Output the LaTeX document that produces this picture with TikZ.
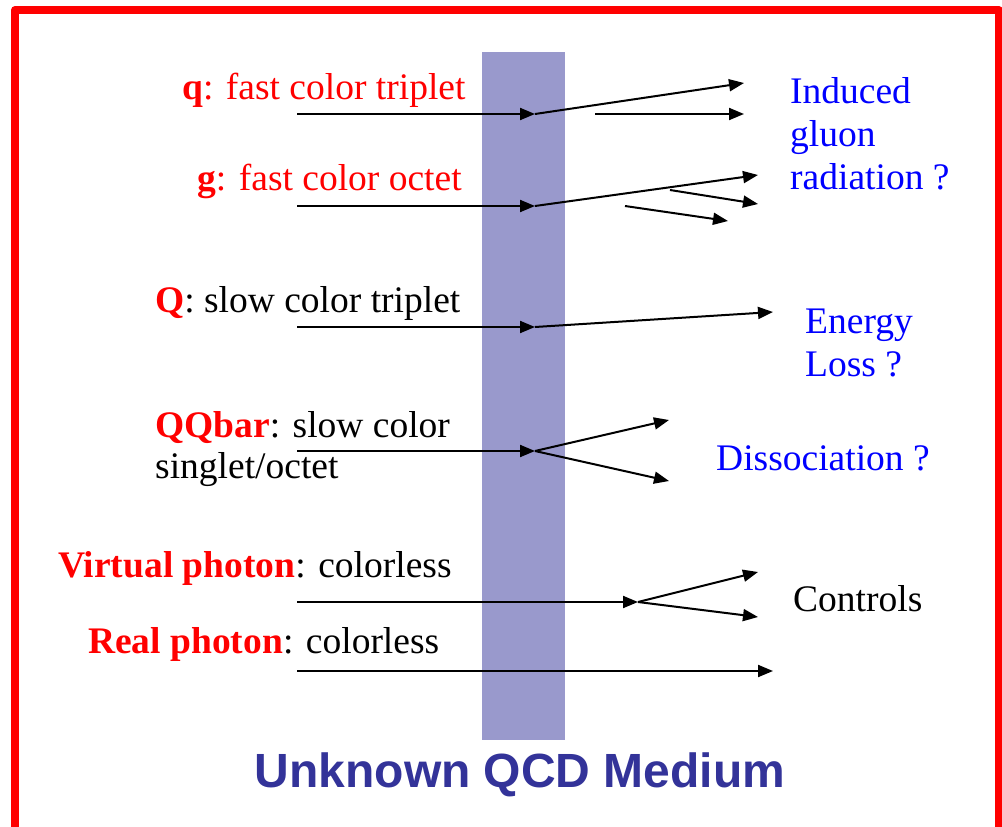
\documentclass[tikz,border=0pt]{standalone}
\usepackage{fontspec}
\setmainfont{Liberation Serif}
\newfontfamily\titlefont{Liberation Sans}
\usetikzlibrary{arrows.meta}
\definecolor{bandcol}{HTML}{9999CC}
\definecolor{titlecol}{HTML}{333399}
\tikzset{
  lbl/.style={inner sep=0pt, anchor=base west, font=\fontsize{37.5}{41}\selectfont},
  arr/.style={line width=2pt, -{Triangle[length=15pt,width=12pt]}},
}
\begin{document}
\begin{tikzpicture}[x=1pt,y=-1pt]
\useasboundingbox (0,0) rectangle (1002,827);
% frame
\draw[red, line width=8pt, line join=round] (15,840) -- (15,10) -- (998.5,10) -- (998.5,840);
% medium band
\fill[bandcol] (482,52) rectangle (565,740);
\node[inner sep=0pt, anchor=base, text=titlecol, font=\titlefont\bfseries\fontsize{48}{52}\selectfont] (title) at (520,787) {Unknown QCD Medium};

% left labels
\node[lbl, text=red] (lq) at (182,99) {\textbf{q}: fast color triplet};
\node[lbl, text=red] (lg) at (197,190) {\textbf{g}: fast color octet};
\node[lbl] (lQ) at (155,312) {\textcolor{red}{\textbf{Q}}: slow color triplet};
\node[lbl] (lQQ) at (155,437) {\textcolor{red}{\textbf{QQbar}}: slow color};
\node[lbl] (lQQb) at (155,478) {singlet/octet};
\node[lbl] (lv) at (58,577) {\textcolor{red}{\textbf{Virtual photon}}: colorless};
\node[lbl] (lr) at (88,653) {\textcolor{red}{\textbf{Real photon}}: colorless};

% right labels
\node[lbl, text=blue] (r1a) at (790,103) {Induced};
\node[lbl, text=blue] (r1b) at (790,146) {gluon};
\node[lbl, text=blue] (r1c) at (790,189) {radiation ?};
\node[lbl, text=blue] (r2a) at (805,333) {Energy};
\node[lbl, text=blue] (r2b) at (805,376) {Loss ?};
\node[lbl, text=blue] (r3) at (716,470) {Dissociation ?};
\node[lbl] (r4) at (793,611) {Controls};

% coordinates
\coordinate (qs) at (297,114);
\coordinate (qv) at (535,114);
\coordinate (qo1) at (744,83);
\coordinate (qs2) at (595,114);
\coordinate (qo2) at (744,114);

\coordinate (gs) at (297,206);
\coordinate (gv) at (535,206);
\coordinate (go1) at (758,175);
\coordinate (gs2) at (670,190);
\coordinate (go2) at (758,204);
\coordinate (gs3) at (625,206);
\coordinate (go3) at (728,221);

\coordinate (Qs) at (297,327);
\coordinate (Qv) at (535,327);
\coordinate (Qo) at (773,312);

\coordinate (QQs) at (297,451);
\coordinate (QQv) at (535,451);
\coordinate (QQo1) at (669,420);
\coordinate (QQo2) at (669,481);

\coordinate (vs) at (297,602);
\coordinate (vv) at (638,602);
\coordinate (vo1) at (758,572);
\coordinate (vo2) at (758,617);

\coordinate (rs) at (297,671);
\coordinate (ro) at (773,671);

% arrows
\draw[arr] (qs) -- (qv);
\draw[arr] (qv) -- (qo1);
\draw[arr] (qs2) -- (qo2);

\draw[arr] (gs) -- (gv);
\draw[arr] (gv) -- (go1);
\draw[arr] (gs2) -- (go2);
\draw[arr] (gs3) -- (go3);

\draw[arr] (Qs) -- (Qv);
\draw[arr] (Qv) -- (Qo);

\draw[arr] (QQs) -- (QQv);
\draw[arr] (QQv) -- (QQo1);
\draw[arr] (QQv) -- (QQo2);

\draw[arr] (vs) -- (vv);
\draw[arr] (vv) -- (vo1);
\draw[arr] (vv) -- (vo2);

\draw[arr] (rs) -- (ro);
\end{tikzpicture}
\end{document}
